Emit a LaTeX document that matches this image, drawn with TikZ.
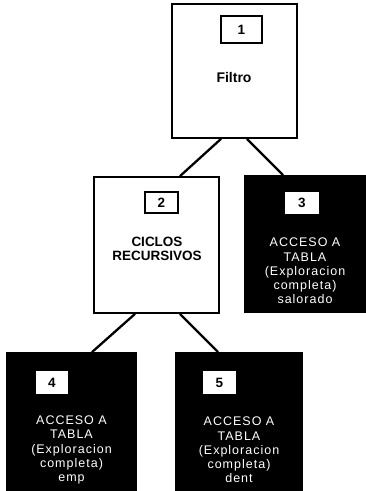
\documentclass[tikz,border=0pt]{standalone}
\usepackage{fontspec}
\setmainfont{Liberation Sans}
\newfontfamily\spacedfont[LetterSpace=8]{Liberation Sans}
\begin{document}
\begin{tikzpicture}[x=1pt,y=-1pt,
  whitebox/.style={draw=black,line width=1.8pt,fill=white,rectangle,inner sep=0pt},
  blackbox/.style={draw=black,line width=1.8pt,fill=black,rectangle,inner sep=0pt},
  numbox/.style={draw=black,line width=1.5pt,fill=white,rectangle,inner sep=0pt,
    font=\fontsize{13.5}{13.5}\selectfont\bfseries},
  boldlabel/.style={font=\fontsize{13.5}{16}\selectfont\bfseries,align=center,inner sep=0pt},
  tablelabel/.style={text=white,align=center,inner sep=0pt,
    font=\spacedfont\fontsize{12.5}{14.2}\selectfont},
  link/.style={line width=2.3pt}]
  \useasboundingbox (0,0) rectangle (366,491);
  \begin{scope}
  \clip (0,0) rectangle (366,491);
  % main boxes
  \node[whitebox,minimum width=125pt,minimum height=134pt] (b1) at (234.5,71) {};
  \node[whitebox,minimum width=125pt,minimum height=136pt] (b2) at (156.5,245) {};
  \node[blackbox,minimum width=120pt,minimum height=136pt] (b3) at (305,244) {};
  \node[blackbox,minimum width=129pt,minimum height=150pt] (b4) at (71.5,428) {};
  \node[blackbox,minimum width=126pt,minimum height=150pt] (b5) at (239,428) {};
  % number boxes
  \node[numbox,minimum width=41pt,minimum height=27pt] (n1) at (241.5,29.5) {1};
  \node[numbox,minimum width=33pt,minimum height=21pt] (n2) at (161.5,202.5) {2};
  \node[numbox,minimum width=36pt,minimum height=24pt] (n3) at (302,203) {3};
  \node[numbox,minimum width=34pt,minimum height=25pt] (n4) at (52,382.5) {4};
  \node[numbox,minimum width=35pt,minimum height=25pt] (n5) at (219.5,382.5) {5};
  % labels
  \node[boldlabel,font=\fontsize{14}{16}\selectfont\bfseries] (t1) at (234,77) {Filtro};
  \node[boldlabel] (t2) at (157,249) {CICLOS\\[-2pt]RECURSIVOS};
  \node[tablelabel] (t3) at (305,271) {ACCESO A\\TABLA\\(Exploracion\\completa)\\salorado};
  \node[tablelabel] (t4) at (71.5,450) {ACCESO A\\TABLA\\(Exploracion\\completa)\\emp};
  \node[tablelabel] (t5) at (239,450) {ACCESO A\\TABLA\\(Exploracion\\completa)\\dent};
  % connectors
  \draw[link] ([xshift=-13.5pt]b1.south) -- ([xshift=23.5pt]b2.north);
  \draw[link] ([xshift=12.5pt]b1.south) -- ([xshift=-22pt]b3.north);
  \draw[link] ([xshift=-21.5pt]b2.south) -- ([xshift=20.5pt]b4.north);
  \draw[link] ([xshift=23.5pt]b2.south) -- ([xshift=-21pt]b5.north);
  \end{scope}
\end{tikzpicture}
\end{document}
